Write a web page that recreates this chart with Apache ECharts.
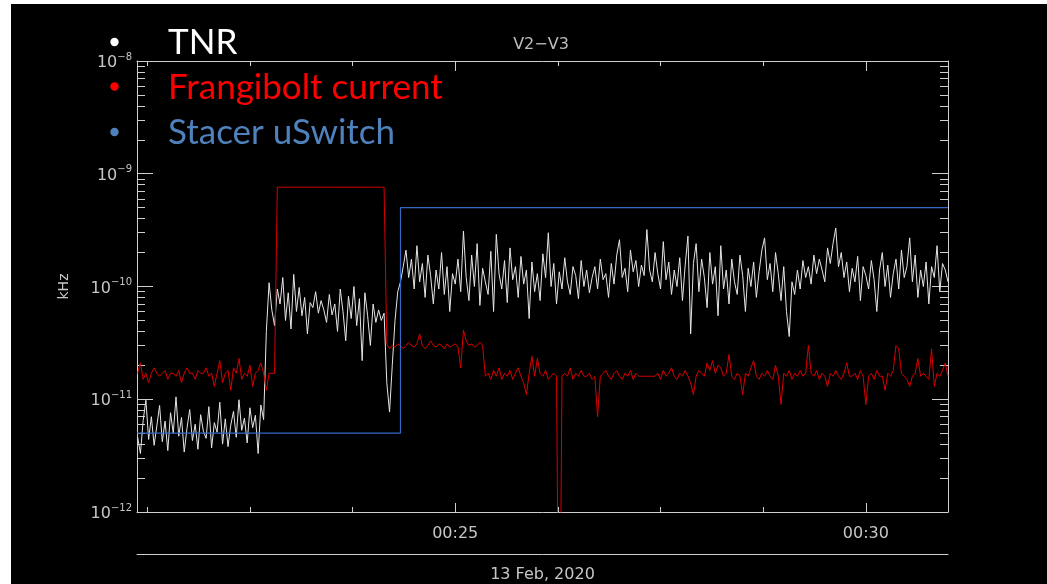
<!DOCTYPE html>
<html><head><meta charset="utf-8">
<script src="https://cdn.jsdelivr.net/npm/echarts@6/dist/echarts.min.js"></script>
<style>
html,body{margin:0;padding:0;background:#fff;width:1047px;height:584px;overflow:hidden}
#c{position:absolute;left:11px;top:4px;width:1036px;height:580px;background:#000}
</style>
</head><body><div id="c"></div>
<script>
// time in seconds after 00:00 UT, 13 Feb 2020; sample cadence 2 s
const T_START = 1268, T_STEP = 2;
const X_MIN = 1267.5, X_MAX = 1860;
const UNIT = 1e-12; // values below are in units of 1e-12 kHz

const tnrValues = [
  4.6, 3.3, 6.5, 9.8, 4.4, 7.0, 3.9, 5.8, 8.8, 4.2,
  6.4, 3.5, 7.6, 5.0, 10.5, 4.7, 6.9, 3.4, 5.5, 8.1,
  4.3, 6.0, 3.6, 7.3, 5.2, 4.5, 8.6, 3.7, 6.2, 5.1,
  9.4, 4.0, 6.7, 3.8, 5.9, 7.8, 4.6, 9.9, 5.3, 6.8,
  4.1, 8.4, 5.6, 7.2, 3.3, 8.9, 6.6,
  40,
  108, 62, 45, 95, 70, 120, 50, 88, 42, 128,
  60, 98, 55, 80, 38, 72, 65, 90, 58, 75,
  62, 48, 85, 56, 70, 40, 95, 60, 33, 82,
  52, 100, 45, 78, 22, 88, 55, 30, 70, 48,
  62, 50, 58,
  14, 7.7, 20, 50, 90, 110,
  150, 210, 120, 175, 95, 230, 110, 160, 80, 190,
  125, 70, 140, 95, 200, 85, 150, 60, 130, 105,
  175, 90, 310, 120, 75, 190, 100, 240, 68, 145,
  110, 85, 205, 60, 290, 130, 95, 170, 72, 220,
  115, 150, 80, 185, 105, 140, 52, 165, 90, 130,
  75, 195, 120, 300, 100, 160, 70, 135, 95, 180,
  110, 85, 150, 125, 78, 170, 100, 140, 88, 120,
  150, 95, 175, 115, 130, 80, 160, 105, 190, 260,
  120, 145, 90, 210, 135, 170, 100, 155, 125, 320,
  140, 110, 200, 130, 95, 250, 115, 165, 85, 140,
  100, 180, 75, 155, 280, 38, 160, 240, 90, 175,
  120, 65, 200, 105, 150, 55, 230, 95, 140, 70,
  175, 110, 85, 190, 125, 60, 145, 100, 165, 80,
  135, 210, 270, 115, 160, 90, 200, 130, 75, 150,
  60, 36, 110, 85, 140, 95, 170, 120, 150, 105,
  190, 130, 175, 140, 110, 220, 160, 240, 330, 150,
  200, 120, 165, 90, 145, 110, 185, 75, 150, 125,
  95, 170, 115, 60, 140, 200, 100, 155, 80, 130,
  175, 95, 210, 120, 150, 270, 110, 190, 80, 140,
  100, 165, 70, 150, 120, 230, 90, 160, 140, 110
];

const frangiboltValues = [
  17, 21, 15, 17, 14, 17, 19, 17, 16, 17,
  18, 15, 17, 17, 16, 18, 14, 17, 19, 17,
  17, 15, 18, 17, 17, 19, 16, 17, 13, 17,
  22, 14, 17, 18, 12, 19, 17, 23, 15, 17,
  16, 20, 13, 17, 18, 21, 17, 12, 17, 17,
  17,
  760, 760, 760, 760, 760, 760, 760, 760, 760, 760,
  760, 760, 760, 760, 760, 760, 760, 760, 760, 760,
  760, 760, 760, 760, 760, 760, 760, 760, 760, 760,
  760, 760, 760, 760, 760, 760, 760, 760, 760, 760,
  31, 28, 30, 29, 31, 30, 28, 30, 32, 30,
  29, 31, 38, 30, 28, 30, 33, 30, 29, 31,
  30, 28, 31, 29, 30, 31, 29, 19, 41, 33,
  30, 31, 29, 30, 32, 30,
  16, 17, 15, 18, 16, 19, 15, 17, 16, 18,
  15, 17, 19, 16, 14, 11, 17, 24, 16, 23,
  17, 16, 18, 15, 16, 17, 16, 0.01, 16, 17,
  16, 19, 15, 17, 16, 18, 16, 16, 17, 15,
  16, 7, 16, 17, 18, 16, 15, 17, 18, 16,
  15, 17, 16, 18, 15, 17, 16, 16, 16, 16,
  16, 16, 16, 17, 15, 18, 16, 17, 19, 16,
  15, 17, 16, 18, 16, 14, 11, 16, 18, 17,
  16, 21, 18, 22, 17, 20, 19, 16, 17, 25,
  16, 15, 17, 16, 11, 17, 16, 19, 22, 16,
  15, 17, 16, 18, 16, 15, 20, 16, 9, 17,
  16, 18, 15, 17, 16, 18, 16, 17, 30, 17,
  16, 18, 15, 17, 16, 13, 17, 16, 18, 16,
  15, 17, 21, 16, 16, 17, 15, 18, 16, 9,
  16, 17, 15, 18, 16, 16, 12, 17, 16, 18,
  30, 28, 17, 16, 15, 13, 16, 17, 23, 16,
  17, 16, 15, 28, 13, 17, 16, 18, 21, 16
];

const stacerTimes = [1267.5, 1460, 1460, 1860];
const stacerValues = [5, 5, 500, 500];

const xMinorTicks = [1275, 1350, 1425, 1500, 1575, 1650, 1725, 1800];
const xMajorTicks = [1500, 1800];
const xMajorLabels = ['00:25', '00:30'];
const yDecades = [1e-12, 1e-11, 1e-10, 1e-9, 1e-8];
const yMinorMult = [2, 3, 4, 5, 6, 7, 8, 9];
const dateLabel = '13 Feb, 2020';
const titleText = 'V2\u2212V3';
const yName = 'kHz';
const legendItems = [
  {name: 'TNR', color: '#ffffff'},
  {name: 'Frangibolt current', color: '#ff0000'},
  {name: 'Stacer uSwitch', color: '#4f81bd'}
];

const yMinorTicks = [];
yDecades.slice(0, 4).forEach(d => yMinorMult.forEach(m => yMinorTicks.push(m * d)));

const toPairs = vals => vals.map((v, i) => [T_START + i * T_STEP, v * UNIT]);
const tnrData = toPairs(tnrValues);
const frgData = toPairs(frangiboltValues);
const stacerData = stacerTimes.map((t, i) => [t, stacerValues[i] * UNIT]);

const AX = '#cfcfcf';
const LBL = '#c6c6c6';
const FONT = 'DejaVu Sans';
const lineStyle = {color: AX, width: 1};

function xAx(opts) {
  return Object.assign({
    type: 'value', min: X_MIN, max: X_MAX, gridIndex: 0,
    splitLine: {show: false},
    axisLine: {show: false, lineStyle},
    axisTick: {show: false},
    axisLabel: {show: false}
  }, opts);
}
function yAx(opts) {
  return Object.assign({
    type: 'log', logBase: 10, min: 1e-12, max: 1e-8, gridIndex: 0,
    splitLine: {show: false},
    minorTick: {show: false},
    axisLine: {show: false, lineStyle},
    axisTick: {show: false},
    axisLabel: {show: false}
  }, opts);
}

const chart = echarts.init(document.getElementById('c'), null, {renderer: 'canvas'});
const option = {
  backgroundColor: '#000',
  animation: false,
  grid: {left: 126, top: 57, width: 811, height: 451, containLabel: false, outerBoundsMode: 'none'},
  xAxis: [
    xAx({position: 'bottom', axisLine: {show: true, lineStyle},
      axisTick: {show: true, inside: true, length: 5, lineStyle, customValues: xMinorTicks}}),
    xAx({position: 'bottom',
      axisTick: {show: true, inside: true, length: 9, lineStyle, customValues: xMajorTicks},
      axisLabel: {show: true, customValues: xMajorTicks, color: LBL, fontSize: 16, fontFamily: FONT, margin: 14,
        formatter: v => xMajorLabels[xMajorTicks.indexOf(v)]}}),
    xAx({position: 'top', axisLine: {show: true, lineStyle},
      axisTick: {show: true, inside: true, length: 5, lineStyle, customValues: xMinorTicks}}),
    xAx({position: 'top',
      axisTick: {show: true, inside: true, length: 10, lineStyle, customValues: xMajorTicks}}),
    xAx({position: 'bottom', offset: 42, axisLine: {show: true, lineStyle},
      name: dateLabel, nameLocation: 'middle', nameGap: 13,
      nameTextStyle: {color: LBL, fontSize: 16, fontFamily: FONT}})
  ],
  yAxis: [
    yAx({position: 'left', axisLine: {show: true, lineStyle},
      axisTick: {show: true, inside: true, length: 16, lineStyle, customValues: yDecades},
      axisLabel: {show: true, customValues: yDecades, margin: 5,
        formatter: v => '{a|10}{b|\u2212' + Math.abs(Math.round(Math.log10(v))) + '}',
        rich: {
          a: {color: LBL, fontSize: 16, fontFamily: FONT, padding: [4, 0, 0, 0]},
          b: {color: LBL, fontSize: 10, fontFamily: FONT, padding: [0, 0, 8, 0]}
        }},
      name: yName, nameLocation: 'middle', nameGap: 66,
      nameTextStyle: {color: LBL, fontSize: 14, fontFamily: FONT}}),
    yAx({position: 'left',
      axisTick: {show: true, inside: true, length: 8, lineStyle, customValues: yMinorTicks}}),
    yAx({position: 'right', axisLine: {show: true, lineStyle},
      axisTick: {show: true, inside: true, length: 16, lineStyle, customValues: yDecades}}),
    yAx({position: 'right',
      axisTick: {show: true, inside: true, length: 8, lineStyle, customValues: yMinorTicks}})
  ],
  series: [
    {name: 'TNR', type: 'line', data: tnrData, xAxisIndex: 0, yAxisIndex: 0,
      showSymbol: false, symbol: 'none', clip: true,
      lineStyle: {color: '#e6e6e6', width: 1}},
    {name: 'Frangibolt current', type: 'line', data: frgData, xAxisIndex: 0, yAxisIndex: 0,
      showSymbol: false, symbol: 'none', clip: true,
      lineStyle: {color: '#d80000', width: 1}},
    {name: 'Stacer uSwitch', type: 'line', data: stacerData, xAxisIndex: 0, yAxisIndex: 0,
      showSymbol: false, symbol: 'none', clip: true,
      lineStyle: {color: '#3568c2', width: 1.2}}
  ],
  graphic: [
    {type: 'text', x: 530, y: 41, z: 10,
      style: {text: titleText, fill: '#bdbdbd', font: '16px "DejaVu Sans"',
        textAlign: 'center', textVerticalAlign: 'middle', align: 'center', verticalAlign: 'middle'}}
  ].concat(legendItems.flatMap((it, i) => {
    const cy = [38, 82.5, 128][i];
    return [
      {type: 'circle', shape: {cx: 103.5, cy: cy, r: 4.2}, style: {fill: it.color}, z: 10},
      {type: 'text', x: 157, y: cy + 1, z: 10,
        style: {text: it.name, fill: it.color, font: '35px Lato',
          textAlign: 'left', textVerticalAlign: 'middle', align: 'left', verticalAlign: 'middle'}}
    ];
  }))
};
chart.setOption(option);
</script>
</body></html>
